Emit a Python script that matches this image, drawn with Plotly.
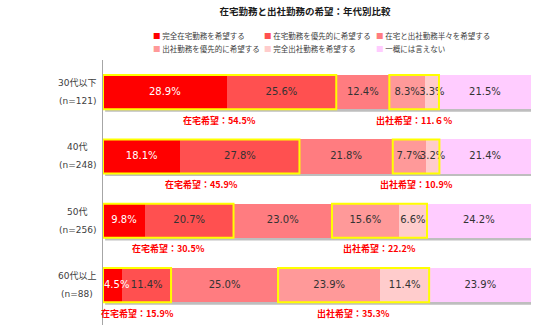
import plotly.graph_objects as go

# ---------------- data ----------------
age_groups = ["30代以下", "40代", "50代", "60代以上"]
sample_sizes = ["(n=121)", "(n=248)", "(n=256)", "(n=88)"]

series_names = [
    "完全在宅勤務を希望する",
    "在宅勤務を優先的に希望する",
    "在宅と出社勤務半々を希望する",
    "出社勤務を優先的に希望する",
    "完全出社勤務を希望する",
    "一概には言えない",
]
full_home = [28.9, 18.1, 9.8, 4.5]
prefer_home = [25.6, 27.8, 20.7, 11.4]
half_half = [12.4, 21.8, 23.0, 25.0]
prefer_office = [8.3, 7.7, 15.6, 23.9]
full_office = [3.3, 3.2, 6.6, 11.4]
undecided = [21.5, 21.4, 24.2, 23.9]

home_labels = ["在宅希望：54.5%", "在宅希望：45.9%", "在宅希望：30.5%", "在宅希望：15.9%"]
office_labels = ["出社希望：11.６%", "出社希望：10.9%", "出社希望：22.2%", "出社希望：35.3%"]

title_text = "在宅勤務と出社勤務の希望：年代別比較"

# ---------------- styles ----------------
colors = ["#FF0000", "#FF5050", "#FF7C80", "#FF9999", "#FFCCCC", "#FFCCFF"]
text_colors = ["#FFFFFF", "#333333", "#333333", "#333333", "#333333", "#333333"]
JP = "Noto Sans CJK JP"
NUM = "DejaVu Sans"

W, H = 536, 325
ML, MR, MT, MB = 103, 5, 60, 0
PW, PH = W - ML - MR, H - MT - MB
BAR_W = 0.53
MIN_LABEL_X = 3.2  # keep first-segment labels inside the bar


def px_x(p):
    return (p - ML) / PW


def px_y(p):
    return (H - MB - p) / PH


series = [full_home, prefer_home, half_half, prefer_office, full_office, undecided]
ypos = list(range(len(age_groups)))

fig = go.Figure()

# bars
for name, vals, col in zip(series_names, series, colors):
    fig.add_trace(go.Bar(
        y=ypos, x=vals, name=name, orientation="h",
        marker=dict(color=col, line=dict(width=0)),
        width=BAR_W, showlegend=False, hoverinfo="x+name",
    ))

# value labels (scatter text drawn above bars so overflow stays visible)
cum = [0.0] * len(age_groups)
for k, (vals, tc) in enumerate(zip(series, text_colors)):
    centers = [c + v / 2 for c, v in zip(cum, vals)]
    if k == 0:
        centers = [max(x, MIN_LABEL_X) for x in centers]
    fig.add_trace(go.Scatter(
        y=ypos, x=centers, mode="text",
        text=[f"{v:.1f}%" for v in vals],
        textfont=dict(family=NUM, size=10, color=tc),
        showlegend=False, hoverinfo="skip", cliponaxis=False,
    ))
    cum = [c + v for c, v in zip(cum, vals)]
totals = cum

shapes = []
annotations = []
for i in ypos:
    home = full_home[i] + prefer_home[i]
    off0 = home + half_half[i]
    off1 = off0 + prefer_office[i] + full_office[i]
    # drop shadow
    shapes.append(dict(type="rect", xref="x", yref="y", layer="below",
                       x0=0.5, x1=totals[i] + 0.5,
                       y0=i - BAR_W / 2 + 0.04, y1=i + BAR_W / 2 + 0.04,
                       fillcolor="rgba(110,110,110,0.45)", line=dict(width=0)))
    # yellow outlines
    for a, b in ((0, home), (off0, off1)):
        shapes.append(dict(type="rect", xref="x", yref="y", layer="above",
                           x0=a, x1=b, y0=i - BAR_W / 2, y1=i + BAR_W / 2,
                           line=dict(color="#FFFF00", width=2)))
    # group annotations
    annotations.append(dict(x=home / 2, y=i + 0.435, xref="x", yref="y",
                            xanchor="center",
                            text="<b>" + home_labels[i] + "</b>", showarrow=False,
                            font=dict(family=JP, size=9, color="#FF0000")))
    annotations.append(dict(x=(off0 + off1) / 2, y=i + 0.435, xref="x", yref="y",
                            xanchor="center",
                            text="<b>" + office_labels[i] + "</b>", showarrow=False,
                            font=dict(family=JP, size=9, color="#FF0000")))
    # category labels (two lines)
    annotations.append(dict(x=px_x(77), y=i, xref="paper", yref="y", yshift=9,
                            xanchor="center", yanchor="middle",
                            text=age_groups[i], showarrow=False,
                            font=dict(family=NUM + ", " + JP, size=9, color="#404040")))
    annotations.append(dict(x=px_x(77), y=i, xref="paper", yref="y", yshift=-9,
                            xanchor="center", yanchor="middle",
                            text=sample_sizes[i], showarrow=False,
                            font=dict(family=NUM, size=9, color="#404040")))

# legend (two rows of three)
leg_cols = [151, 262, 374]
leg_rows = [35, 48]
for k, (name, col) in enumerate(zip(series_names, colors)):
    r, c = divmod(k, 3)
    annotations.append(dict(
        x=px_x(leg_cols[c]), y=px_y(leg_rows[r]), xref="paper", yref="paper",
        xanchor="left", yanchor="middle", showarrow=False,
        text=f'<span style="color:{col}">■</span> {name}',
        font=dict(family=JP, size=7.5, color="#404040")))

fig.update_layout(
    width=W, height=H,
    margin=dict(l=ML, r=MR, t=MT, b=MB, pad=0),
    barmode="stack", bargap=0,
    plot_bgcolor="white", paper_bgcolor="white",
    title=dict(text="<b>" + title_text + "</b>", x=305 / W, xanchor="center",
               y=1 - 12 / H, yanchor="middle",
               font=dict(family=JP, size=9.5, color="#1a1a1a")),
    xaxis=dict(range=[0, 100], visible=False, fixedrange=True),
    yaxis=dict(range=[3.62, -0.5], showticklabels=False, showgrid=False,
               zeroline=False, ticks="", showline=True, linecolor="#A6A6A6",
               linewidth=1, fixedrange=True),
    shapes=shapes, annotations=annotations,
    showlegend=False,
)

fig.write_html("out.html")
